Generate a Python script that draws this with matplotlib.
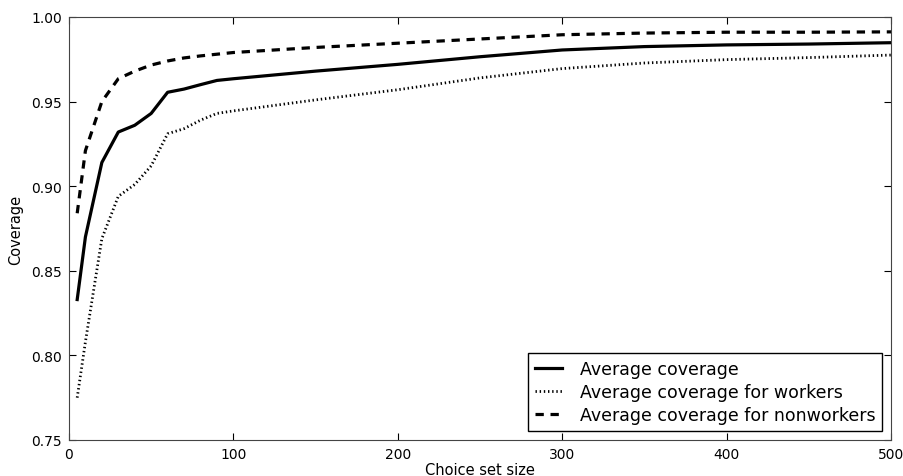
import numpy as np
import matplotlib
matplotlib.use("Agg")
import matplotlib.pyplot as plt

# values
set_size = [5, 10, 20, 30, 40, 50, 60, 70, 80, 90, 100, 150, 200, 250, 300, 350, 400, 450, 500]
avg_all = [0.833, 0.870, 0.914, 0.932, 0.936, 0.943, 0.9555, 0.9574, 0.960, 0.9625, 0.9635,
           0.968, 0.972, 0.9765, 0.9805, 0.9825, 0.9835, 0.984, 0.9848]
avg_workers = [0.775, 0.808, 0.869, 0.894, 0.901, 0.912, 0.931, 0.934, 0.939, 0.943, 0.9445,
               0.951, 0.957, 0.964, 0.9695, 0.9728, 0.9748, 0.976, 0.9775]
avg_nonworkers = [0.884, 0.921, 0.950, 0.9635, 0.968, 0.9716, 0.974, 0.9758, 0.977, 0.978, 0.979,
                  0.982, 0.9845, 0.987, 0.9895, 0.9905, 0.991, 0.991, 0.9912]

fig = plt.figure(figsize=(9.04, 4.77), dpi=100)
ax = fig.add_axes([0.0763, 0.0755, 0.9093, 0.8868])

ax.plot(set_size, avg_all, color="black", linewidth=2.3, label="Average coverage")
ax.plot(set_size, avg_workers, color="black", linewidth=2.0, dashes=(0.5, 1.0),
        label="Average coverage for workers")
ax.plot(set_size, avg_nonworkers, color="black", linewidth=2.3, dashes=(2.6, 2.1),
        label="Average coverage for nonworkers")

ax.set_xlim(0, 500)
ax.set_ylim(0.75, 1.00)
ax.set_xticks(np.arange(0, 501, 100))
ax.set_yticks(np.arange(0.75, 1.001, 0.05))
ax.yaxis.set_major_formatter(matplotlib.ticker.FormatStrFormatter("%.2f"))
ax.tick_params(direction="in", top=True, right=True, length=5, labelsize=10, pad=5)
for s in ax.spines.values():
    s.set_color("#444444")

ax.set_xlabel("Choice set size", fontsize=10.5, labelpad=1)
ax.set_ylabel("Coverage", fontsize=10.5, labelpad=6)

leg = ax.legend(loc="lower right", fontsize=12.5, handlelength=1.6, fancybox=False,
                framealpha=1, borderaxespad=0.5, labelspacing=0.3, handletextpad=1.0)
leg.get_frame().set_edgecolor("black")

fig.savefig("out.png", dpi=100)
